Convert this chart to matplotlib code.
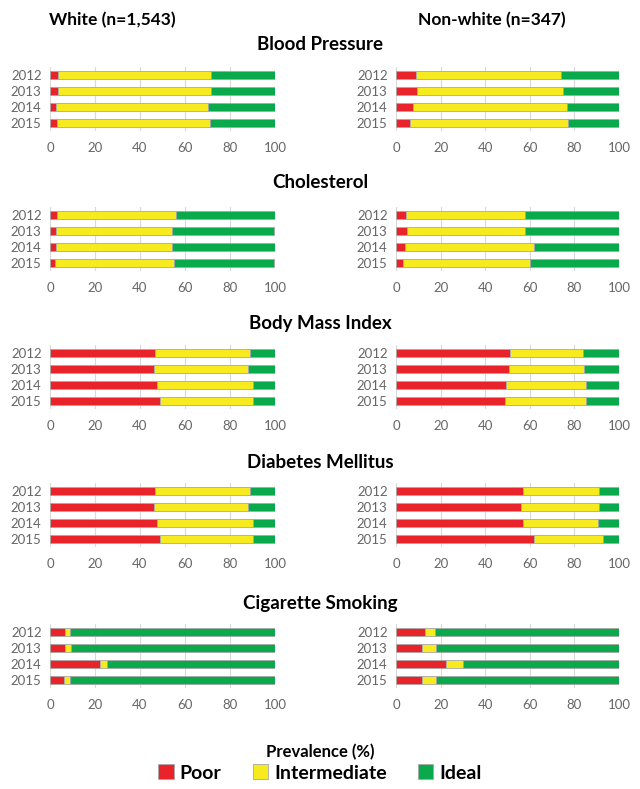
import matplotlib.pyplot as plt
from matplotlib.patches import Patch
import numpy as np

years = ['2012', '2013', '2014', '2015']
metrics = ['Blood Pressure', 'Cholesterol', 'Body Mass Index', 'Diabetes Mellitus', 'Cigarette Smoking']
groups = ['White (n=1,543)', 'Non-white (n=347)']

# prevalence (%) per metric, per year 2012-2015
white_poor = [[3.5, 3.5, 2.5, 3.0],
              [3.0, 2.5, 2.5, 2.0],
              [46.5, 46.0, 47.5, 49.0],
              [46.5, 46.0, 47.5, 49.0],
              [6.5, 6.5, 22.0, 6.0]]
white_inter = [[68.0, 68.0, 67.5, 68.0],
               [53.0, 51.5, 51.5, 53.0],
               [42.5, 42.0, 42.5, 41.0],
               [42.5, 42.0, 42.5, 41.0],
               [2.5, 3.0, 3.5, 3.0]]
white_ideal = [[28.5, 28.5, 30.0, 29.0],
               [44.0, 45.5, 46.0, 44.5],
               [11.0, 12.0, 10.0, 10.0],
               [11.0, 12.0, 10.0, 10.0],
               [91.0, 90.5, 74.5, 91.0]]

nonwhite_poor = [[9.0, 9.5, 7.5, 6.5],
                 [4.5, 5.0, 4.0, 3.0],
                 [51.0, 50.5, 49.5, 49.0],
                 [57.0, 56.0, 57.0, 62.0],
                 [13.0, 11.5, 22.5, 11.5]]
nonwhite_inter = [[65.0, 65.5, 69.0, 70.5],
                  [53.5, 53.0, 58.0, 57.0],
                  [33.0, 34.0, 35.5, 36.0],
                  [34.0, 35.0, 33.5, 31.0],
                  [4.5, 6.5, 7.5, 6.5]]
nonwhite_ideal = [[26.0, 25.0, 23.5, 23.0],
                  [42.0, 42.0, 38.0, 40.0],
                  [16.0, 15.5, 15.0, 15.0],
                  [9.0, 9.0, 9.5, 7.0],
                  [82.5, 82.0, 70.0, 82.0]]

colors = {'Poor': '#e8232a', 'Intermediate': '#f7ea1e', 'Ideal': '#0aa94c'}
edge = '#a8a8a8'
tick_color = '#666666'
font = 'Lato'

W, H = 640, 789
fig = plt.figure(figsize=(W / 100, H / 100), dpi=100)

def px_axes(x0, y0, x1, y1):
    return fig.add_axes([x0 / W, 1 - y1 / H, (x1 - x0) / W, (y1 - y0) / H])

row_tops = [67, 207, 345, 483, 624]
title_y = [45, 182, 323, 463, 603]
col_x = [(50, 275), (396, 619)]
data = [(white_poor, white_inter, white_ideal), (nonwhite_poor, nonwhite_inter, nonwhite_ideal)]

y = np.arange(len(years))
for r, metric in enumerate(metrics):
    fig.text(0.5, 1 - title_y[r] / H, metric, ha='center', va='center',
             fontsize=13.5, fontweight='bold', family=font)
    for c in range(2):
        ax = px_axes(col_x[c][0], row_tops[r], col_x[c][1], row_tops[r] + 64)
        poor, inter, ideal = (np.array(d[r]) for d in data[c])
        ax.barh(y, poor, height=0.46, color=colors['Poor'], edgecolor=edge, linewidth=0.6, zorder=3)
        ax.barh(y, inter, left=poor, height=0.46, color=colors['Intermediate'], edgecolor=edge, linewidth=0.6, zorder=3)
        ax.barh(y, ideal, left=poor + inter, height=0.46, color=colors['Ideal'], edgecolor=edge, linewidth=0.6, zorder=3)
        ax.set_xlim(0, 100)
        ax.set_ylim(3.5, -0.5)
        ax.set_yticks(y)
        ax.set_yticklabels(years, family=font)
        ax.set_xticks([0, 20, 40, 60, 80, 100])
        ax.set_xticklabels(['0', '20', '40', '60', '80', '100'], family=font)
        ax.tick_params(length=0, labelsize=9.5, colors=tick_color)
        ax.tick_params(axis='y', pad=6)
        ax.tick_params(axis='x', pad=8)
        ax.grid(axis='x', color='#d9d9d9', linewidth=0.8, zorder=0)
        for s in ax.spines.values():
            s.set_visible(False)

header_x = [112, 492]
for c, g in enumerate(groups):
    fig.text(header_x[c] / W, 1 - 20 / H, g,
             ha='center', va='center', fontsize=12.5, fontweight='bold', family=font)

fig.text(0.5, 1 - 752 / H, 'Prevalence (%)', ha='center', va='center',
         fontsize=12, fontweight='bold', family=font)
handles = [Patch(facecolor=colors[k], edgecolor=edge, linewidth=0.6) for k in colors]
fig.legend(handles, list(colors.keys()), loc='center', bbox_to_anchor=(0.5, 1 - 773 / H),
           ncol=3, frameon=False, handlelength=0.8, handleheight=0.8, handletextpad=0.3,
           columnspacing=1.6, prop={'family': font, 'weight': 'bold', 'size': 14})

fig.savefig('out.png', dpi=100)
